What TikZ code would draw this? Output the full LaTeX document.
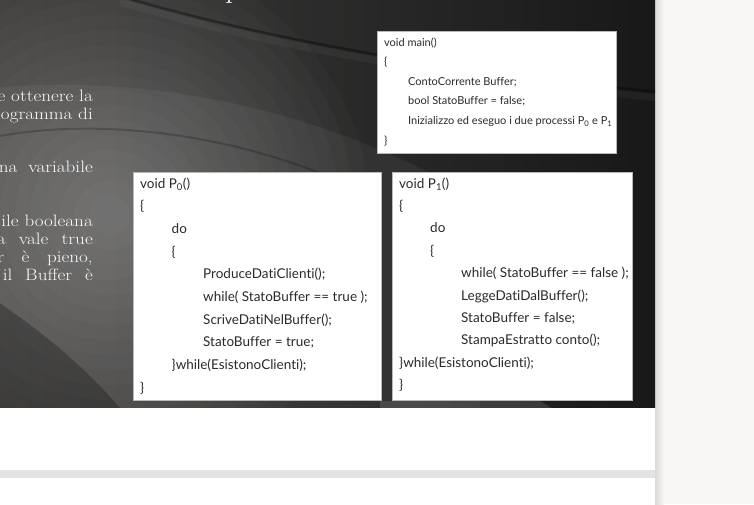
\documentclass[tikz,border=0pt]{standalone}
\usepackage{fontspec}
\newfontfamily\codefont[Ligatures=NoCommon]{Lato}
\newfontfamily\slidefont{Latin Modern Roman}
\usetikzlibrary{positioning}
\definecolor{slideleft}{HTML}{3E3D3C}
\definecolor{slideright}{HTML}{181818}
\definecolor{pagegray}{HTML}{F8F7F5}
\definecolor{stripgray}{HTML}{E3E3E3}
\definecolor{codegray}{HTML}{2A2A2A}
\definecolor{slidetext}{HTML}{FAFAFA}
\newcommand\wide[2][]{\scalebox{1.16}[1]{\ifx&#1&#2\else\makebox[#1][s]{#2}\fi}}
\tikzset{
  codebox/.style={draw=black!28,fill=white,line width=.8pt,inner sep=0pt,anchor=north west},
  codeline/.style={anchor=base west,inner sep=0pt,text=codegray,font=\codefont\fontsize{13.5}{16}\selectfont},
  mainline/.style={codeline,font=\codefont\fontsize{11}{12}\selectfont},
  slideline/.style={anchor=base east,inner sep=0pt,text=slidetext,font=\slidefont\fontsize{16.5}{18}\selectfont},
}
\begin{document}
\begin{tikzpicture}[x=1pt,y=-1pt]
	\useasboundingbox (0,0) rectangle (754,504);
	% page round the slide
	\fill[pagegray] (655,0) rectangle (754,504);
	\shade[left color=black!14,right color=pagegray] (655,0) rectangle (664,504);
	\fill[white] (0,407) rectangle (655,504);
	\fill[stripgray] (0,470) rectangle (655,478);
	% slide background
	\begin{scope}
		\clip (0,0) rectangle (655,407);
		\shade[left color=slideleft,right color=slideright] (0,0) rectangle (655,407);
		\foreach \r in {20,35,...,260}
			\fill[white,opacity=.02] (110,215) circle (\r);
		\fill[white,opacity=.05] (-5,88) .. controls (120,76) and (300,95) .. (480,200) -- (480,420) -- (-5,420) -- cycle;
		\draw[white,opacity=.04,line width=7pt] (120,2) .. controls (260,44) and (450,78) .. (660,98);
		\draw[black,opacity=.35,line width=2.5pt] (120,-4) .. controls (260,38) and (450,72) .. (660,92);
		\draw[black,opacity=.2,line width=2pt] (-5,137) .. controls (80,120) and (220,125) .. (360,190);
		\fill[black,opacity=.25] (-5,300) .. controls (40,330) and (90,370) .. (130,420) -- (-5,420) -- cycle;
		\fill[white,opacity=.12] (380,401) -- (540,401) -- (552,408) -- (380,408) -- cycle;
		% text of the slide, cut at the left
		\node[anchor=base,text=slidetext,font=\slidefont\fontsize{30}{30}\selectfont] (title) at (233,-3) {p};
		\node[slideline] (l1) at (93,101) {\wide{e ottenere la}};
		\node[slideline] (l2) at (93,119) {\wide{ogramma di}};
		\node[slideline] (l3) at (93,172) {\wide[81pt]{na variabile}};
		\node[slideline] (l4) at (93,226) {\wide{ile booleana}};
		\node[slideline] (l5) at (93,244) {\wide[82.8pt]{a vale true}};
		\node[slideline] (l6) at (93,262) {\wide[82.3pt]{r è pieno,}};
		\node[slideline] (l7) at (93,280) {\wide[77.6pt]{il Buffer è}};
	\end{scope}
	% code boxes
	\node[codebox,minimum width=239pt,minimum height=122pt] (mainbox) at (377,31) {};
	\node[codebox,minimum width=248pt,minimum height=228pt] (pzero) at (133,172) {};
	\node[codebox,minimum width=240pt,minimum height=228pt] (puno) at (392,172) {};
	\foreach \ind/\txt [count=\i] in {0/void main(), 0/\{, 1/ContoCorrente Buffer;,
		1/bool StatoBuffer = false;, 1/Inizializzo ed eseguo i due processi P\textsubscript{0} e P\textsubscript{1}, 0/\}}
		\node[mainline] (main-\i) at ({384+24*\ind},{46+19.6*(\i-1)}) {\txt};
	\foreach \ind/\txt [count=\i] in {0/void P\textsubscript{0}(), 0/\{, 1/do, 1/\{,
		2/ProduceDatiClienti();, 2/while( StatoBuffer == true );, 2/ScriveDatiNelBuffer();,
		2/StatoBuffer = true;, 1/\}while(EsistonoClienti);, 0/\}}
		\node[codeline] (pzero-\i) at ({140+31.5*\ind},{188+22.7*(\i-1)}) {\txt};
	\foreach \ind/\txt [count=\i] in {0/void P\textsubscript{1}(), 0/\{, 1/do, 1/\{,
		2/while( StatoBuffer == false );, 2/LeggeDatiDalBuffer();, 2/StatoBuffer = false;,
		2/StampaEstratto conto();, 0/\}while(EsistonoClienti);, 0/\}}
		\node[codeline] (puno-\i) at ({399+31*\ind},{188+22.4*(\i-1)}) {\txt};
\end{tikzpicture}
\end{document}
